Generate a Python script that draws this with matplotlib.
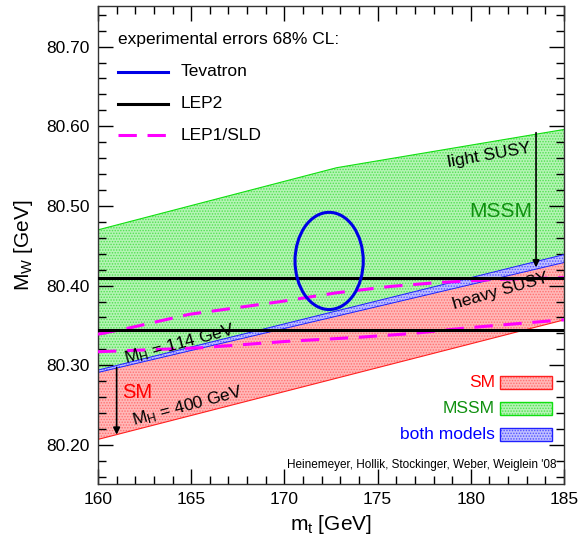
import numpy as np
import matplotlib
matplotlib.use("Agg")
import matplotlib.pyplot as plt
from matplotlib.patches import Ellipse, Rectangle

plt.rcParams['font.family'] = ['Liberation Sans', 'DejaVu Sans']
plt.rcParams['mathtext.fontset'] = 'custom'
plt.rcParams['mathtext.rm'] = 'Liberation Sans'
plt.rcParams['mathtext.default'] = 'regular'
plt.rcParams['hatch.linewidth'] = 0.7

# ---------------- data ----------------
# SM band (lower edge M_H = 400 GeV, upper edge M_H = 114 GeV)
mt_sm = [160, 185]
mw_sm_mh400 = [80.207, 80.357]
mw_sm_mh114 = [80.294, 80.439]
# MSSM band
mt_mssm_lo = [160, 185]
mw_mssm_lo = [80.291, 80.429]
mt_mssm_hi = [160, 172.8, 185]
mw_mssm_hi = [80.470, 80.548, 80.596]
# LEP2 (horizontal band edges)
mw_lep2 = [80.410, 80.344]
# LEP1/SLD contour edges
mt_lep1_up = [160.0, 161.7, 164.9, 169.8, 172.8, 175.7, 178.3, 181.6, 185.0]
mw_lep1_up = [80.339, 80.347, 80.364, 80.380, 80.391, 80.399, 80.404, 80.408, 80.410]
mt_lep1_lo = [160.0, 165.5, 170.1, 173.9, 176.9, 179.8, 184.4, 185.0]
mw_lep1_lo = [80.317, 80.322, 80.330, 80.335, 80.340, 80.347, 80.356, 80.357]
# Tevatron ellipse (centre, half-widths)
tev_mt, tev_mw = 172.4, 80.431
tev_dmt, tev_dmw = 1.83, 0.061
# arrows
arrow_sm = (161.0, 80.297, 80.213)
arrow_susy = (183.5, 80.592, 80.423)

# ---------------- figure ----------------
fig = plt.figure(figsize=(5.85, 5.43), dpi=100)
ax = fig.add_axes([98/585, 59/543, 466/585, 478/543])
ax.set_xlim(160, 185)
ax.set_ylim(80.151, 80.751)

RED_FC, RED_HC = '#ffb8b8', '#ff7070'
GRN_FC, GRN_HC = '#b4f4b4', '#50e050'
BLU_FC, BLU_HC = '#c0c0ff', '#5050ff'

def poly(xu, yu, xl, yl):
    return list(xu) + list(xl)[::-1], list(yu) + list(yl)[::-1]

# SM red band
px, py = poly(mt_sm, mw_sm_mh114, mt_sm, mw_sm_mh400)
ax.fill(px, py, facecolor=RED_FC, edgecolor=RED_HC, hatch='......', linewidth=0, zorder=1)
ax.plot(mt_sm, mw_sm_mh400, color='#ff2020', lw=0.8, zorder=2)
# MSSM green band
px, py = poly(mt_mssm_hi, mw_mssm_hi, mt_mssm_lo, mw_mssm_lo)
ax.fill(px, py, facecolor=GRN_FC, edgecolor=GRN_HC, hatch='......', linewidth=0, zorder=1)
ax.plot(mt_mssm_hi, mw_mssm_hi, color='#10e010', lw=0.8, zorder=2)
# overlap blue band
px, py = poly(mt_sm, mw_sm_mh114, mt_mssm_lo, mw_mssm_lo)
ax.fill(px, py, facecolor=BLU_FC, edgecolor=BLU_HC, hatch='......', linewidth=0, zorder=2)
ax.plot(mt_sm, mw_sm_mh114, color='#2020ff', lw=0.7, zorder=2)
ax.plot(mt_mssm_lo, mw_mssm_lo, color='#2020ff', lw=0.7, zorder=2)

# LEP2
for v in mw_lep2:
    ax.axhline(v, color='black', lw=2.2, zorder=4)
# LEP1/SLD
for xs, ys in ((mt_lep1_up, mw_lep1_up), (mt_lep1_lo, mw_lep1_lo)):
    ax.plot(xs, ys, color='#ff00ff', lw=2.2, ls=(0, (6, 3.5)), zorder=3)
# Tevatron
ax.add_patch(Ellipse((tev_mt, tev_mw), 2*tev_dmt, 2*tev_dmw, fill=False,
                     edgecolor='#0000e6', lw=2.2, zorder=5))

# arrows
for x, y0, y1 in (arrow_sm, arrow_susy):
    ax.annotate('', xy=(x, y1), xytext=(x, y0),
                arrowprops=dict(arrowstyle='-|>', color='black', lw=1.2,
                                mutation_scale=10, shrinkA=0, shrinkB=0), zorder=6)

# annotations
ax.text(180.98, 80.563, 'light SUSY', fontsize=12.5, rotation=10, ha='center', va='center', zorder=6)
ax.text(181.6, 80.493, 'MSSM', fontsize=15, color='#109010', ha='center', va='center', zorder=6)
ax.text(181.57, 80.393, 'heavy SUSY', fontsize=12.5, rotation=16, ha='center', va='center', zorder=6)
ax.text(164.4, 80.327, '$M_H$ = 114 GeV', fontsize=12.5, rotation=15, ha='center', va='center', zorder=6)
ax.text(162.1, 80.266, 'SM', fontsize=14.5, color='#ff0000', ha='center', va='center', zorder=6)
ax.text(164.8, 80.249, '$M_H$ = 400 GeV', fontsize=12.5, rotation=15, ha='center', va='center', zorder=6)

# top legend
T = ax.transAxes
ax.text(0.043, 0.929, 'experimental errors 68% CL:', transform=T, fontsize=12.5, va='center', ha='left')
leg_items = [('Tevatron', '#0000e6', '-', 0.862), ('LEP2', 'black', '-', 0.795),
             ('LEP1/SLD', '#ff00ff', (0, (6, 3.5)), 0.730)]
for lab, c, ls, yy in leg_items:
    ax.plot([0.043, 0.150], [yy, yy], transform=T, color=c, lw=2.2, ls=ls, zorder=6)
    ax.text(0.178, yy, lab, transform=T, fontsize=12.5, va='center', ha='left')

# bottom-right legend
leg2 = [('SM', '#ff0000', RED_FC, RED_HC, '#ff2020', 0.199),
        ('MSSM', '#109010', GRN_FC, GRN_HC, '#10e010', 0.144),
        ('both models', '#0000ff', BLU_FC, BLU_HC, '#2020ff', 0.090)]
for lab, tc, fc, hc, ec, yb in leg2:
    ax.add_patch(Rectangle((0.863, yb), 0.1116, 0.0272, transform=T, facecolor=fc,
                           edgecolor=hc, hatch='......', lw=0, zorder=6))
    ax.add_patch(Rectangle((0.863, yb), 0.1116, 0.0272, transform=T, facecolor='none',
                           edgecolor=ec, lw=1.0, zorder=7))
    ax.text(0.852, yb + 0.0136, lab, transform=T, fontsize=12.5, color=tc, ha='right', va='center')

ax.text(0.983, 0.040, "Heinemeyer, Hollik, Stockinger, Weber, Weiglein '08", transform=T,
        fontsize=8.5, ha='right', va='center')

# axes styling
ax.set_xticks(np.arange(160, 186, 5))
ax.set_xticks(np.arange(160, 186, 1), minor=True)
ax.set_yticks([80.20, 80.30, 80.40, 80.50, 80.60, 80.70])
ax.set_yticks(np.arange(80.16, 80.751, 0.02), minor=True)
ax.set_yticklabels(['80.20', '80.30', '80.40', '80.50', '80.60', '80.70'])
ax.tick_params(which='both', direction='in', top=True, right=True, labelsize=12.5, width=1.0, pad=6)
ax.tick_params(which='major', length=11)
ax.tick_params(which='minor', length=6)
for s in ax.spines.values():
    s.set_linewidth(1.0)
    s.set_color('#333333')

ax.set_xlabel('$m_t$ [GeV]', fontsize=15, labelpad=4)
ax.set_ylabel('$M_W$ [GeV]', fontsize=15, labelpad=8)

fig.savefig('out.png', dpi=100)
